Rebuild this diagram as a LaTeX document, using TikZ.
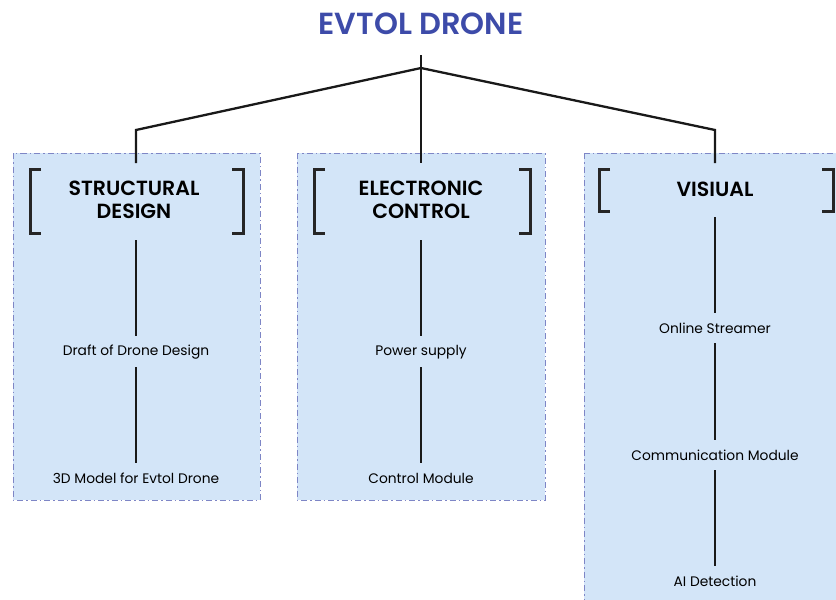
\documentclass[tikz,border=0pt]{standalone}
\usepackage{fontspec}
\setmainfont{Poppins}[BoldFont={Poppins SemiBold}]
\definecolor{boxfill}{HTML}{D3E5F8}
\definecolor{boxline}{HTML}{7E86C6}
\definecolor{titleblue}{HTML}{3D4BA9}
\begin{document}
\begin{tikzpicture}[x=1pt,y=-1pt,
  groupbox/.style={fill=boxfill,draw=boxline,line width=0.9pt,dash pattern=on 6pt off 3pt on 1.5pt off 3pt},
  head/.style={font=\bfseries\fontsize{20.5}{23.5}\selectfont,align=center,inner sep=0pt},
  item/.style={font=\fontsize{13.8}{16}\selectfont,inner sep=0pt},
  link/.style={line width=2.3pt,black!90},
  brack/.style={line width=3pt,black!85,line cap=butt,line join=miter}]
\useasboundingbox (0,0) rectangle (836,600);
\begin{scope}
\clip (0,0) rectangle (836,600);
\path[groupbox] (13,153) rectangle (260,500);
\path[groupbox] (297,153) rectangle (545,500);
\path[groupbox] (584,153) rectangle (850,612);
\end{scope}

% brackets
\draw[brack] (41,169) -- (30,169) -- (30,233) -- (41,233);
\draw[brack] (232,169) -- (243,169) -- (243,233) -- (232,233);
\draw[brack] (325,169) -- (314,169) -- (314,233) -- (325,233);
\draw[brack] (519,169) -- (530,169) -- (530,233) -- (519,233);
\draw[brack] (610,169) -- (599,169) -- (599,211) -- (610,211);
\draw[brack] (822,169) -- (833,169) -- (833,211) -- (822,211);

% title
\node[font=\bfseries\fontsize{30.5}{33}\selectfont,text=titleblue,inner sep=0pt] (t) at (421,24) {EVTOL DRONE};
\coordinate (j) at (421,68);
\coordinate (b1) at (136,130);
\coordinate (b3) at (715,130);
\coordinate (e1) at (136,163);
\coordinate (e2) at (421,163);
\coordinate (e3) at (715,163);

% headings
\node[head] (h1) at (134,200) {STRUCTURAL\\DESIGN};
\node[head] (h2) at (421,200) {ELECTRONIC\\CONTROL};
\node[head] (h3) at (715,189) {VISIUAL};

% items
\node[item] (a1) at (136,352) {Draft of Drone Design};
\node[item] (a2) at (136,478) {3D Model for Evtol Drone};
\node[item] (m1) at (421,352) {Power supply};
\node[item] (m2) at (421,478) {Control Module};
\node[item] (v1) at (715,328) {Online Streamer};
\node[item] (v2) at (715,455) {Communication Module};
\node[item] (v3) at (715,581) {AI Detection};

% tree connectors
\draw[link] (t.south |- 0,55) -- (j);
\draw[link,line join=miter] (j) -- (b1) -- (e1);
\draw[link] (j) -- (e2);
\draw[link,line join=miter] (j) -- (b3) -- (e3);

% vertical connectors
\draw[link] (a1 |- 0,240) -- (a1.north |- 0,336);
\draw[link] (a1.south |- 0,367) -- (a2.north |- 0,463);
\draw[link] (m1 |- 0,240) -- (m1.north |- 0,336);
\draw[link] (m1.south |- 0,367) -- (m2.north |- 0,463);
\draw[link] (v1 |- 0,217) -- (v1.north |- 0,313);
\draw[link] (v1.south |- 0,343) -- (v2.north |- 0,440);
\draw[link] (v2.south |- 0,470) -- (v3.north |- 0,566);
\end{tikzpicture}
\end{document}
